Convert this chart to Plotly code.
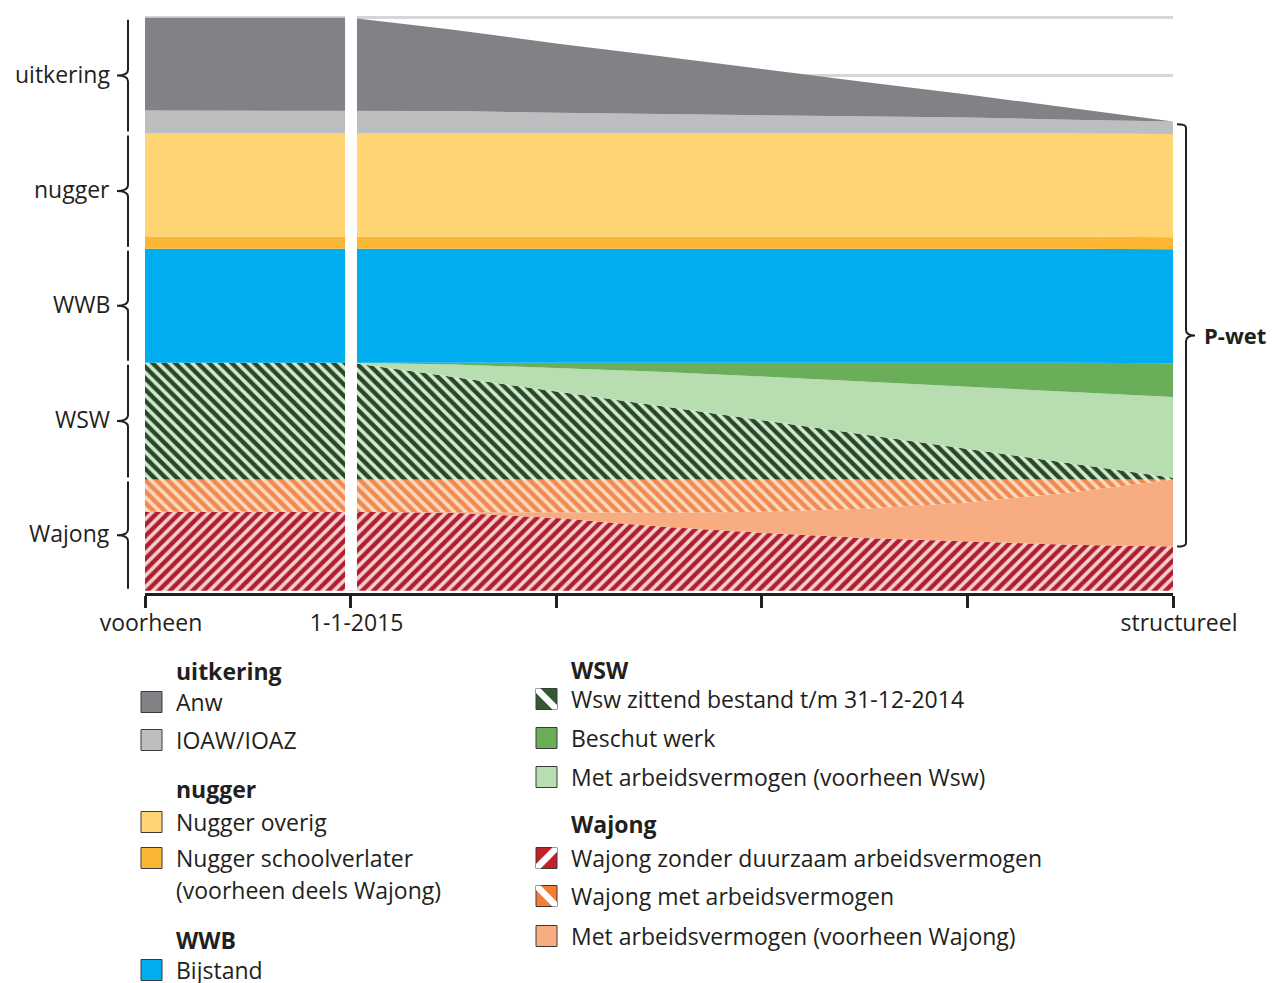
import plotly.graph_objects as go

# ---------------- data ----------------
x_pos = [0, 1, 1.5, 2, 2.5, 3, 3.5, 4, 4.5, 5]
tick_vals = [0, 1, 2, 3, 4, 5]
tick_text = ["voorheen", "1-1-2015", "", "", "", "structureel"]
grid_vals = [90, 100]

# stacked bottom -> top
wajong_zonder = [13.8, 13.8, 13.6, 12.7, 11.2, 10.1, 9.2, 8.6, 8.0, 7.7]
met_av_wajong = [0.0, 0.0, 0.2, 1.0, 2.4, 3.7, 5.1, 6.8, 9.1, 11.7]
wajong_met = [5.6, 5.6, 5.6, 5.7, 5.8, 5.6, 5.1, 4.0, 2.3, 0.0]
wsw_zittend = [20.4, 20.4, 17.9, 15.4, 12.9, 10.4, 7.9, 5.4, 2.8, 0.3]
met_av_wsw = [0.0, 0.0, 2.2, 4.1, 5.9, 7.6, 9.2, 10.9, 12.5, 14.1]
beschut_werk = [0.0, 0.0, 0.4, 0.9, 1.6, 2.4, 3.3, 4.2, 5.1, 5.9]
bijstand = [19.9, 19.9, 19.9, 19.9, 19.9, 19.9, 19.9, 19.9, 19.9, 19.9]
nugger_school = [2.1, 2.1, 2.1, 2.1, 2.1, 2.1, 2.1, 2.1, 2.1, 2.1]
nugger_overig = [18.0, 18.0, 18.0, 18.0, 18.0, 18.0, 18.0, 18.0, 18.0, 18.0]
ioaw = [4.0, 4.0, 3.8, 3.6, 3.4, 3.1, 2.9, 2.7, 2.4, 2.2]
anw = [16.2, 16.2, 14.2, 12.1, 10.1, 8.1, 6.1, 4.0, 2.1, 0.0]

# ---------------- styling ----------------
TXT = "#231f20"
FONT = "Open Sans"
C = dict(
    anw="#808285", ioaw="#bcbec0", overig="#ffd473", school="#fbb733",
    bijstand="#00adee", beschut="#6aae5a", met_wsw="#b8ddb1", met_wajong="#f7ac82",
)
HATCH = dict(
    wsw=dict(shape="\\", fgcolor="#284629", bgcolor="#d2eacb"),
    zonder=dict(shape="/", fgcolor="#ad1f2e", bgcolor="#f6cdce"),
    met=dict(shape="\\", fgcolor="#ef8a50", bgcolor="#fcd8bd"),
)
ICON = dict(wsw="#2f5b2f", zonder="#c22128", met="#f47e35")

series = [
    ("Wajong zonder duurzaam arbeidsvermogen", wajong_zonder, None, "zonder"),
    ("Met arbeidsvermogen (voorheen Wajong)", met_av_wajong, C["met_wajong"], None),
    ("Wajong met arbeidsvermogen", wajong_met, None, "met"),
    ("Wsw zittend bestand t/m 31-12-2014", wsw_zittend, None, "wsw"),
    ("Met arbeidsvermogen (voorheen Wsw)", met_av_wsw, C["met_wsw"], None),
    ("Beschut werk", beschut_werk, C["beschut"], None),
    ("Bijstand", bijstand, C["bijstand"], None),
    ("Nugger schoolverlater", nugger_school, C["school"], None),
    ("Nugger overig", nugger_overig, C["overig"], None),
    ("IOAW/IOAZ", ioaw, C["ioaw"], None),
    ("Anw", anw, C["anw"], None),
]

fig = go.Figure()
for name, vals, col, hatch in series:
    kw = dict(x=x_pos, y=vals, name=name, mode="lines", stackgroup="one",
              line=dict(width=0), hoverinfo="skip", showlegend=False)
    if hatch:
        h = HATCH[hatch]
        kw["fillcolor"] = h["bgcolor"]
        kw["fillpattern"] = dict(shape=h["shape"], fgcolor=h["fgcolor"], bgcolor=h["bgcolor"],
                                 fgopacity=1, fillmode="replace", size=8, solidity=0.55)
    else:
        kw["fillcolor"] = col
    fig.add_trace(go.Scatter(**kw))

# ---------------- geometry helpers ----------------
OFF = 8  # page body margin
W, H = 1277 - OFF, 983 - OFF
ML, MT = 145 - OFF, 16 - OFF
PLOT_W, PLOT_H = 1028, 577
MR = W - ML - PLOT_W
MB = H - MT - PLOT_H


def px_x(px):
    return (px - OFF - ML) / PLOT_W


def px_y(py):
    return (MT + PLOT_H - (py - OFF)) / PLOT_H


shapes = []
annotations = []

# white separator between "voorheen" and the transition
shapes.append(dict(type="rect", xref="x", yref="y", x0=0.973, x1=1.031, y0=0, y1=101,
                   fillcolor="white", line=dict(width=0), layer="above"))

# ---------------- left braces with group labels ----------------
groups_at_start = [
    [wajong_zonder[0], met_av_wajong[0], wajong_met[0]],
    [wsw_zittend[0], met_av_wsw[0], beschut_werk[0]],
    [bijstand[0]],
    [nugger_school[0], nugger_overig[0]],
    [ioaw[0], anw[0]],
]
labels_bottom_up = ["Wajong", "WSW", "WWB", "nugger", "uitkering"]
base = 0.0
xb, xt = px_x(128), px_x(117)
for lab, parts in zip(labels_bottom_up, groups_at_start):
    top = base + sum(parts)
    y0, y1 = base + 0.35, top - 0.35
    ym = (base + top) / 2
    d = 1.0
    path = (f"M {xb},{y1} L {xb},{ym + d} Q {xb},{ym} {xt},{ym} "
            f"Q {xb},{ym} {xb},{ym - d} L {xb},{y0}")
    shapes.append(dict(type="path", xref="paper", yref="y", path=path,
                       line=dict(color=TXT, width=2)))
    annotations.append(dict(xref="paper", yref="y", x=px_x(112), y=ym, text=lab,
                            xanchor="right", yanchor="middle", showarrow=False, yshift=2,
                            font=dict(family=FONT, size=23, color=TXT)))
    base = top

# ---------------- right brace "P-wet" ----------------
end = len(x_pos) - 1
p_bottom = wajong_zonder[end]
p_top = sum(s[1][end] for s in series[:-1]) - 0.5
pm = (p_bottom + p_top) / 2
xr, xh, xtip = px_x(1186), px_x(1177), px_x(1195)
d = 1.0
path = (f"M {xh},{p_top} Q {xr},{p_top} {xr},{p_top - 0.6} L {xr},{pm + d} "
        f"Q {xr},{pm} {xtip},{pm} Q {xr},{pm} {xr},{pm - d} L {xr},{p_bottom + 0.6} "
        f"Q {xr},{p_bottom} {xh},{p_bottom}")
shapes.append(dict(type="path", xref="paper", yref="y", path=path,
                   line=dict(color=TXT, width=2)))
annotations.append(dict(xref="paper", yref="y", x=px_x(1202), y=pm, text="<b>P-wet</b>",
                        xanchor="left", yanchor="middle", showarrow=False,
                        font=dict(family=FONT, size=22, color=TXT)))

# ---------------- custom legend ----------------
SQ = 21


def legend_title(x_px, y_px, text):
    annotations.append(dict(xref="paper", yref="paper", x=px_x(x_px), y=px_y(y_px),
                            text=f"<b>{text}</b>", xanchor="left", yanchor="middle",
                            showarrow=False, font=dict(family=FONT, size=23, color=TXT)))


def legend_item(sq_x, y_px, text, color, hatch=None):
    x0, x1 = px_x(sq_x), px_x(sq_x + SQ)
    y0, y1 = px_y(y_px + SQ / 2), px_y(y_px - SQ / 2)
    shapes.append(dict(type="rect", xref="paper", yref="paper", x0=x0, x1=x1, y0=y0, y1=y1,
                       fillcolor=color, line=dict(color="#3a3a3a", width=1)))
    if hatch:
        w = 0.22
        dx, dy = (x1 - x0), (y1 - y0)
        if hatch == "\\":
            pts = [(x0, y1 - w * dy), (x0, y1), (x0 + w * dx, y1),
                   (x1, y0 + w * dy), (x1, y0), (x1 - w * dx, y0)]
        else:
            pts = [(x0, y0 + w * dy), (x0, y0), (x0 + w * dx, y0),
                   (x1, y1 - w * dy), (x1, y1), (x1 - w * dx, y1)]
        p = "M " + " L ".join(f"{a},{b}" for a, b in pts) + " Z"
        shapes.append(dict(type="path", xref="paper", yref="paper", path=p,
                           fillcolor="white", line=dict(width=0)))
    annotations.append(dict(xref="paper", yref="paper", x=px_x(sq_x + 33), y=px_y(y_px),
                            text=text, xanchor="left", yanchor="middle", showarrow=False,
                            font=dict(family=FONT, size=23, color=TXT)))


LX, RX = 141, 536
legend_title(LX + 33, 671, "uitkering")
legend_item(LX, 702, "Anw", C["anw"])
legend_item(LX, 740, "IOAW/IOAZ", C["ioaw"])
legend_title(LX + 33, 789, "nugger")
legend_item(LX, 822, "Nugger overig", C["overig"])
legend_item(LX, 858, "Nugger schoolverlater", C["school"])
annotations.append(dict(xref="paper", yref="paper", x=px_x(LX + 33), y=px_y(890),
                        text="(voorheen deels Wajong)", xanchor="left", yanchor="middle",
                        showarrow=False, font=dict(family=FONT, size=23, color=TXT)))
legend_title(LX + 33, 940, "WWB")
legend_item(LX, 970, "Bijstand", C["bijstand"])

legend_title(RX + 33, 670, "WSW")
legend_item(RX, 699, "Wsw zittend bestand t/m 31-12-2014", ICON["wsw"], "\\")
legend_item(RX, 738, "Beschut werk", C["beschut"])
legend_item(RX, 777, "Met arbeidsvermogen (voorheen Wsw)", C["met_wsw"])
legend_title(RX + 33, 824, "Wajong")
legend_item(RX, 858, "Wajong zonder duurzaam arbeidsvermogen", ICON["zonder"], "/")
legend_item(RX, 896, "Wajong met arbeidsvermogen", ICON["met"], "\\")
legend_item(RX, 936, "Met arbeidsvermogen (voorheen Wajong)", C["met_wajong"])

fig.update_layout(
    width=W, height=H,
    margin=dict(l=ML, r=MR, t=MT, b=MB, pad=0),
    paper_bgcolor="white", plot_bgcolor="white",
    showlegend=False,
    shapes=shapes, annotations=annotations,
    font=dict(family=FONT, color=TXT),
    xaxis=dict(range=[0, 5], tickvals=tick_vals, ticktext=tick_text, showgrid=False,
               zeroline=False, showline=True, linecolor=TXT, linewidth=3,
               ticks="outside", ticklen=12, tickwidth=3, tickcolor=TXT,
               ticklabelshift=6, ticklabelstandoff=-5,
               tickfont=dict(family=FONT, size=23, color=TXT),
               fixedrange=True),
    yaxis=dict(range=[-0.4, 100.3], tickvals=grid_vals, showticklabels=False,
               showgrid=True, gridcolor="#d5d6d8", gridwidth=2.5, zeroline=False,
               showline=False, ticks="", fixedrange=True),
)

fig.write_html("out.html")
